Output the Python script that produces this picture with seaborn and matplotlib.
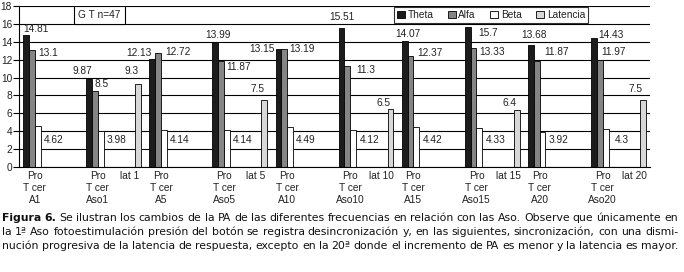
"""Figura 6: potencia absoluta por frecuencia (Theta, Alfa, Beta) y latencia."""

import matplotlib

matplotlib.use("Agg")
import matplotlib.pyplot as plt
import pandas as pd
import seaborn as sns
from matplotlib.patches import Patch, Rectangle

# Categories on the x axis (blank slots keep the original spacing)
categories = ["A1", "b1", "Aso1", "lat1", "A5", "b5", "Aso5", "lat5",
              "A10", "b10", "Aso10", "lat10", "A15", "b15", "Aso15", "lat15",
              "A20", "b20", "Aso20", "lat20"]
tick_labels = ["Pro\nT cer\nA1", "", "Pro\nT cer\nAso1", "lat 1",
               "Pro\nT cer\nA5", "", "Pro\nT cer\nAso5", "lat 5",
               "Pro\nT cer\nA10", "", "Pro\nT cer\nAso10", "lat 10",
               "Pro\nT cer\nA15", "", "Pro\nT cer\nAso15", "lat 15",
               "Pro\nT cer\nA20", "", "Pro\nT cer\nAso20", "lat 20"]

series = ["Theta", "Alfa", "Beta", "Latencia"]
theta = [14.81, 0, 9.87, 0, 12.13, 0, 13.99, 0, 13.15, 0,
         15.51, 0, 14.07, 0, 15.7, 0, 13.68, 0, 14.43, 0]
alfa = [13.1, 0, 8.5, 0, 12.72, 0, 11.87, 0, 13.19, 0,
        11.3, 0, 12.37, 0, 13.33, 0, 11.87, 0, 11.97, 0]
beta = [4.62, 0, 3.98, 0, 4.14, 0, 4.14, 0, 4.49, 0,
        4.12, 0, 4.42, 0, 4.33, 0, 3.92, 0, 4.3, 0]
latencia = [0, 0, 0, 9.3, 0, 0, 0, 7.5, 0, 0,
            0, 6.5, 0, 0, 0, 6.4, 0, 0, 0, 7.5]

colors = {"Theta": "#1c1c1c", "Alfa": "#858585", "Beta": "#ffffff", "Latencia": "#d8d8d8"}

# Hand placed label offsets (pixels) as in the original figure
theta_off = [(10, 6), (-7, 8), (-13, 6), (3, 7), (-16, 0),
             (0, 11), (3, 7), (20, -6), (3, 10), (17, 3)]
alfa_off = [(16, -3), (7, 7), (20, 1), (17, -6), (18, 0),
            (18, -4), (19, 3), (19, -4), (20, 9), (14, 8)]
lat_off = [(-7, 13), (-7, 11), (-7, 6), (-7, 7), (-7, 11)]

caption = [
    "Figura 6. Se ilustran los cambios de la PA de las diferentes frecuencias "
    "en relación con las Aso. Observe que únicamente en",
    "la 1ª Aso fotoestimulación presión del botón se registra desincronización y, "
    "en las siguientes, sincronización, con una dismi-",
    "nución progresiva de la latencia de respuesta, excepto en la 20ª donde el "
    "incremento de PA es menor y la latencia es mayor.",
]

W, H = 684, 272
FS = 7.3
TXT = "#222222"

sns.set_theme(style="white")
plt.rcParams["font.family"] = ["Liberation Sans", "DejaVu Sans"]

df = pd.DataFrame({
    "cat": categories * 4,
    "serie": [s for s in series for _ in categories],
    "valor": theta + alfa + beta + latencia,
})

fig = plt.figure(figsize=(W / 100, H / 100), dpi=100)
ax = fig.add_axes([19 / W, 1 - 167 / H, 631 / W, 161 / H])

sns.barplot(data=df, x="cat", y="valor", hue="serie", order=categories,
            hue_order=series, palette=colors, saturation=1, width=0.74,
            edgecolor="black", linewidth=0.6, errorbar=None, legend=False, ax=ax)

ax.set_ylim(0, 18)
ax.set_xlim(-0.5, len(categories) - 0.5)
ax.set_yticks(range(0, 19, 2))
ax.yaxis.grid(True, color="black", linewidth=0.8)
ax.set_axisbelow(True)
ax.set_xlabel("")
ax.set_ylabel("")
for side in ["top", "right"]:
    ax.spines[side].set_visible(False)
for side in ["left", "bottom"]:
    ax.spines[side].set_color("black")
    ax.spines[side].set_linewidth(0.8)

ax.set_xticks(range(len(categories)))
ax.set_xticklabels(tick_labels, fontsize=FS, color=TXT, linespacing=1.25)
ax.set_xticks([i - 0.5 for i in range(len(categories) + 1)], minor=True)
ax.tick_params(axis="x", which="major", length=0, pad=3)
ax.tick_params(axis="x", which="minor", length=4, width=0.8, color="black", direction="out")
ax.tick_params(axis="y", length=4, width=0.8, color="black", direction="out",
               labelsize=FS, labelcolor=TXT, pad=1, left=True)

# value labels
conts = dict(zip(series, ax.containers))


def bar_labels(name, offsets, fixed_y=None):
    bars = [b for b in conts[name] if b.get_height() > 0]
    for i, b in enumerate(bars):
        x = b.get_x() + b.get_width() / 2
        h = b.get_height()
        y = h if fixed_y is None else fixed_y
        ax.annotate(f"{h:g}", (x, y), xytext=offsets[i], textcoords="offset pixels",
                    ha="center", va="center", fontsize=FS, color=TXT, zorder=5)


bar_labels("Theta", theta_off)
bar_labels("Alfa", alfa_off)
bar_labels("Beta", [(16, 0)] * 10, fixed_y=3.0)
bar_labels("Latencia", lat_off)

# legend box between the top gridlines
handles = [Patch(facecolor=colors[s], edgecolor="black", linewidth=0.6, label=s) for s in series]
leg = ax.legend(handles=handles, ncol=4, loc="center", mode="expand",
                bbox_to_anchor=(0.594, 0.889, 0.308, 0.111), borderaxespad=0,
                frameon=True, fancybox=False, edgecolor="black", fontsize=FS,
                handlelength=0.8, handleheight=0.8, handletextpad=0.25,
                columnspacing=0.6, borderpad=0.3)
leg.get_frame().set_linewidth(0.8)
for t in leg.get_texts():
    t.set_color(TXT)

# "G T n=47" box
ax.add_patch(Rectangle((0.0872, 16), 0.0808, 2, transform=ax.get_yaxis_transform(),
                       facecolor="white", edgecolor="black", linewidth=0.8, zorder=3))
ax.text(0.1276, 17, "G T n=47", transform=ax.get_yaxis_transform(), ha="center",
        va="center", fontsize=FS, color=TXT, zorder=4)

# justified caption
renderer = fig.canvas.get_renderer()


def justified_line(line, y_px, bold_words=0, x0=2, x1=678, size=7.8):
    words = line.split()
    texts = []
    for i, w in enumerate(words):
        texts.append(fig.text(0, 1 - y_px / H, w, fontsize=size, color="#111111",
                              family="DejaVu Sans", va="center",
                              fontweight="bold" if i < bold_words else "normal"))
    widths = [t.get_window_extent(renderer).width for t in texts]
    gap = (x1 - x0 - sum(widths)) / (len(words) - 1)
    x = x0
    for t, w in zip(texts, widths):
        t.set_x(x / W)
        x += w + gap


justified_line(caption[0], 218, bold_words=2)
justified_line(caption[1], 232)
justified_line(caption[2], 246)

fig.savefig("out.png", dpi=100)
